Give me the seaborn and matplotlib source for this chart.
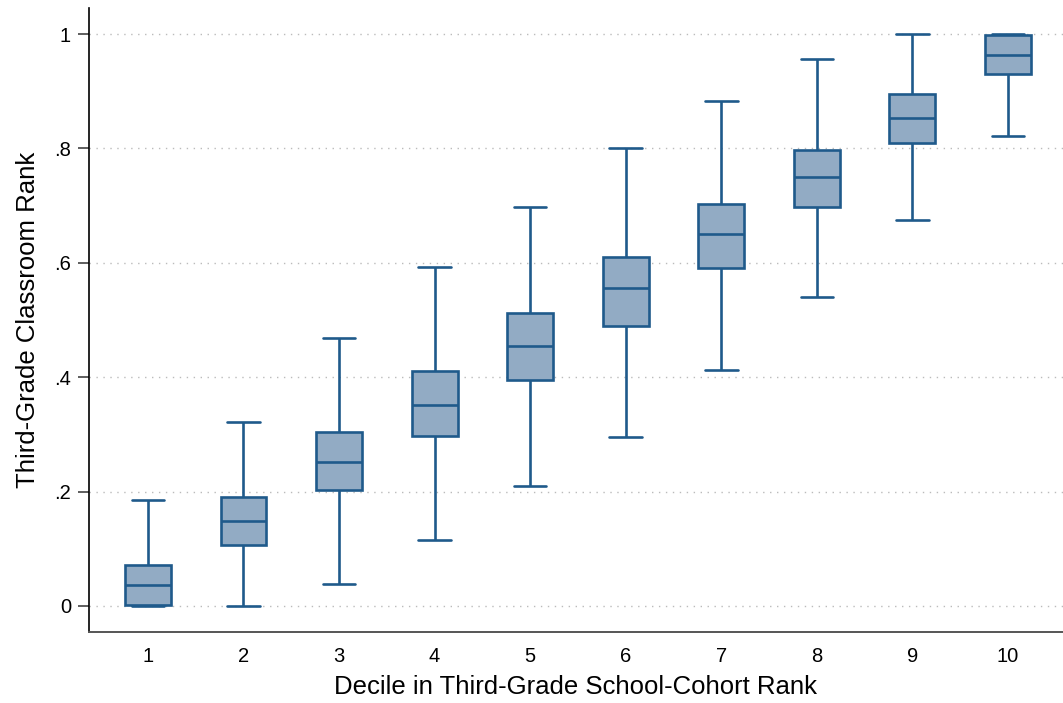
import numpy as np
import pandas as pd
import matplotlib
matplotlib.use("Agg")
import matplotlib.pyplot as plt
import seaborn as sns

# Five-number summaries per decile
deciles = ["1", "2", "3", "4", "5", "6", "7", "8", "9", "10"]
whisker_low = [0.000, 0.000, 0.038, 0.115, 0.210, 0.295, 0.413, 0.540, 0.675, 0.822]
q1 = [0.002, 0.107, 0.203, 0.297, 0.395, 0.490, 0.591, 0.698, 0.809, 0.930]
median = [0.037, 0.149, 0.252, 0.351, 0.455, 0.556, 0.650, 0.750, 0.853, 0.963]
q3 = [0.072, 0.191, 0.304, 0.411, 0.512, 0.610, 0.703, 0.797, 0.895, 0.998]
whisker_high = [0.185, 0.322, 0.469, 0.593, 0.698, 0.801, 0.883, 0.956, 1.000, 1.000]

ytick_vals = [0, 0.2, 0.4, 0.6, 0.8, 1.0]
ytick_labels = ["0", ".2", ".4", ".6", ".8", "1"]

rows = []
for d, a, b, c, e, f in zip(deciles, whisker_low, q1, median, q3, whisker_high):
    for v in (a, b, c, e, f):
        rows.append({"decile": d, "rank": v})
df = pd.DataFrame(rows)

sns.set_theme(style="ticks")
plt.rcParams["font.family"] = ["Liberation Sans", "DejaVu Sans"]
plt.rcParams["text.color"] = "black"
plt.rcParams["axes.labelcolor"] = "black"
plt.rcParams["xtick.color"] = "black"
plt.rcParams["ytick.color"] = "black"

edge = "#1f5a8b"
fill = "#92abc4"

fig = plt.figure(figsize=(10.63, 7.03), dpi=100)
ax = fig.add_axes([0.0837, 0.101, 0.9163, 0.8876])

sns.boxplot(data=df, x="decile", y="rank", order=deciles, whis=(0, 100),
            color=fill, saturation=1, linecolor=edge, linewidth=1.9,
            width=0.48, capwidths=0.34, ax=ax)

ax.set_xlim(-0.617, 9.576)
ax.set_ylim(-0.0455, 1.0455)
ax.set_yticks(ytick_vals)
ax.set_yticklabels(ytick_labels, fontsize=14.5)
ax.tick_params(axis="x", length=0, labelsize=14.5, pad=11)
ax.tick_params(axis="y", length=8, width=1.1, color="#333333", left=True, pad=5)
for v in ytick_vals:
    ax.axhline(v, color="#bbbbbb", lw=1, ls=(0, (1, 4)), zorder=0)

for s in ["top", "right"]:
    ax.spines[s].set_visible(False)
ax.spines["left"].set_color("black")
ax.spines["left"].set_linewidth(1.2)
ax.spines["bottom"].set_color("#555555")
ax.spines["bottom"].set_linewidth(1.4)

ax.set_xlabel("Decile in Third-Grade School-Cohort Rank", fontsize=18.5, labelpad=6)
ax.set_ylabel("Third-Grade Classroom Rank", fontsize=18.5, labelpad=10)

fig.savefig("out.png", dpi=100)
